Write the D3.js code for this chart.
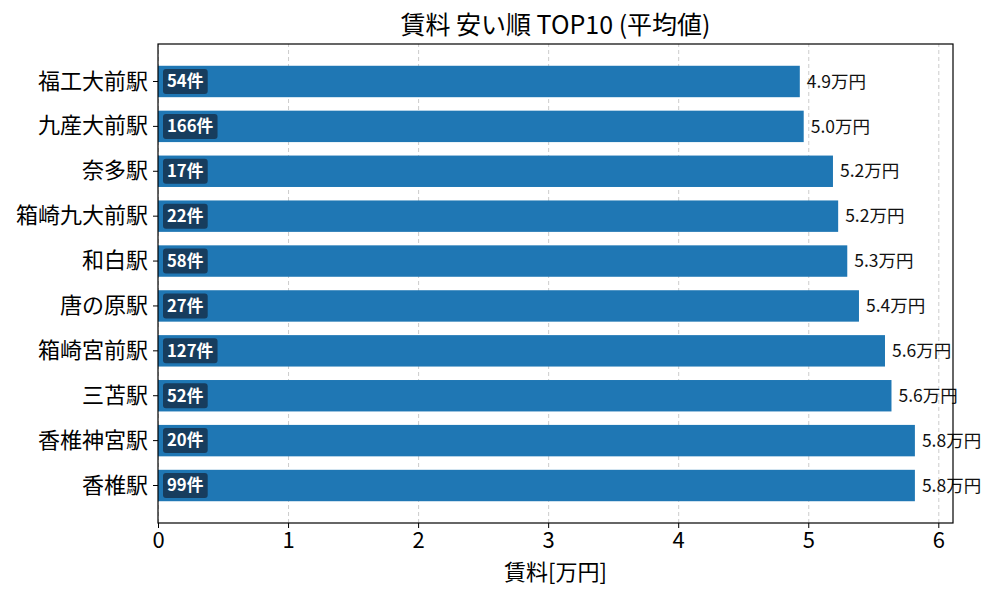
<!DOCTYPE html>
<html>
<head>
<meta charset="utf-8">
<script src="https://cdn.jsdelivr.net/npm/d3@7"></script>
<style>
	body { margin: 0; background: #fff; }
	svg { font-family: "Noto Sans CJK JP", "Noto Sans", sans-serif; }
	.gridline line { stroke: #cccccc; stroke-dasharray: 4,3; }
	.gridline .domain { display: none; }
</style>
</head>
<body>
<div id="chart"></div>
<script>
// stations (top to bottom), average rent [万円], listing counts
const stations = ['福工大前駅', '九産大前駅', '奈多駅', '箱崎九大前駅', '和白駅', '唐の原駅', '箱崎宮前駅', '三苫駅', '香椎神宮駅', '香椎駅'];
const rents = [4.935, 4.965, 5.19, 5.23, 5.30, 5.39, 5.59, 5.64, 5.82, 5.82];
const counts = [54, 166, 17, 22, 58, 27, 127, 52, 20, 99];
const xticks = [0, 1, 2, 3, 4, 5, 6];

const W = 1000, H = 600;
const margin = {top: 44, right: 47, bottom: 77, left: 158};
const width = W - margin.left - margin.right;
const height = H - margin.top - margin.bottom;

const svg = d3.select('#chart').append('svg')
	.attr('width', W).attr('height', H);

const g = svg.append('g')
	.attr('transform', `translate(${margin.left},${margin.top})`);

const x = d3.scaleLinear().domain([0, 6.113]).range([0, width]);
const y = d3.scaleBand().domain(stations).range([0, height])
	.paddingInner(0.3).paddingOuter(0.485);

// grid
g.append('g')
	.attr('class', 'gridline')
	.attr('transform', `translate(0,${height})`)
	.call(d3.axisBottom(x).tickValues(xticks).tickSize(-height).tickFormat(''));

// bars
g.selectAll('.bar').data(stations).join('rect')
	.attr('class', 'bar')
	.attr('x', x(0))
	.attr('y', d => y(d))
	.attr('width', (d, i) => x(rents[i]) - x(0))
	.attr('height', y.bandwidth())
	.attr('fill', '#1f77b4');

// value labels
g.selectAll('.val').data(stations).join('text')
	.attr('class', 'val')
	.attr('x', (d, i) => x(rents[i]) + 7)
	.attr('y', d => y(d) + y.bandwidth() / 2)
	.attr('dy', '0.35em')
	.attr('font-size', '17.5px')
	.attr('fill', '#111')
	.text((d, i) => rents[i].toFixed(1) + '万円');

// count badges
const badges = g.selectAll('.badge').data(stations).join('g')
	.attr('class', 'badge')
	.attr('transform', d => `translate(9,${y(d) + y.bandwidth() / 2})`);

badges.append('rect')
	.attr('fill', '#173d5e')
	.attr('rx', 3);

badges.append('text')
	.attr('dy', '0.35em')
	.attr('font-size', '16.7px')
	.attr('font-weight', 'bold')
	.attr('fill', '#fff')
	.text((d, i) => counts[i] + '件');

badges.each(function(){
	let b = d3.select(this).select('text').node().getBBox();
	d3.select(this).select('rect')
		.attr('x', b.x - 4)
		.attr('y', -12.5)
		.attr('width', b.width + 8)
		.attr('height', 25);
});

// frame
g.append('rect')
	.attr('width', width).attr('height', height)
	.attr('fill', 'none').attr('stroke', '#000').attr('stroke-width', 1.2);

// axes
const xAxis = g.append('g')
	.attr('transform', `translate(0,${height})`)
	.attr('font-family', null)
	.call(d3.axisBottom(x).tickValues(xticks).tickSize(5).tickPadding(4).tickFormat(d3.format('d')));
xAxis.attr('font-family', null).attr('font-size', null);
xAxis.select('.domain').remove();
xAxis.selectAll('text').attr('font-size', '22px').attr('fill', '#000');

const yAxis = g.append('g')
	.call(d3.axisLeft(y).tickSize(5).tickPadding(5));
yAxis.attr('font-family', null).attr('font-size', null);
yAxis.select('.domain').remove();
yAxis.selectAll('text').attr('font-size', '22px').attr('fill', '#000');

// title & axis label
svg.append('text')
	.attr('x', margin.left + width / 2).attr('y', 34)
	.attr('text-anchor', 'middle')
	.attr('font-size', '25px')
	.text('賃料 安い順 TOP10 (平均値)');

svg.append('text')
	.attr('x', margin.left + width / 2).attr('y', 580)
	.attr('text-anchor', 'middle')
	.attr('font-size', '22px')
	.text('賃料[万円]');
</script>
</body>
</html>
